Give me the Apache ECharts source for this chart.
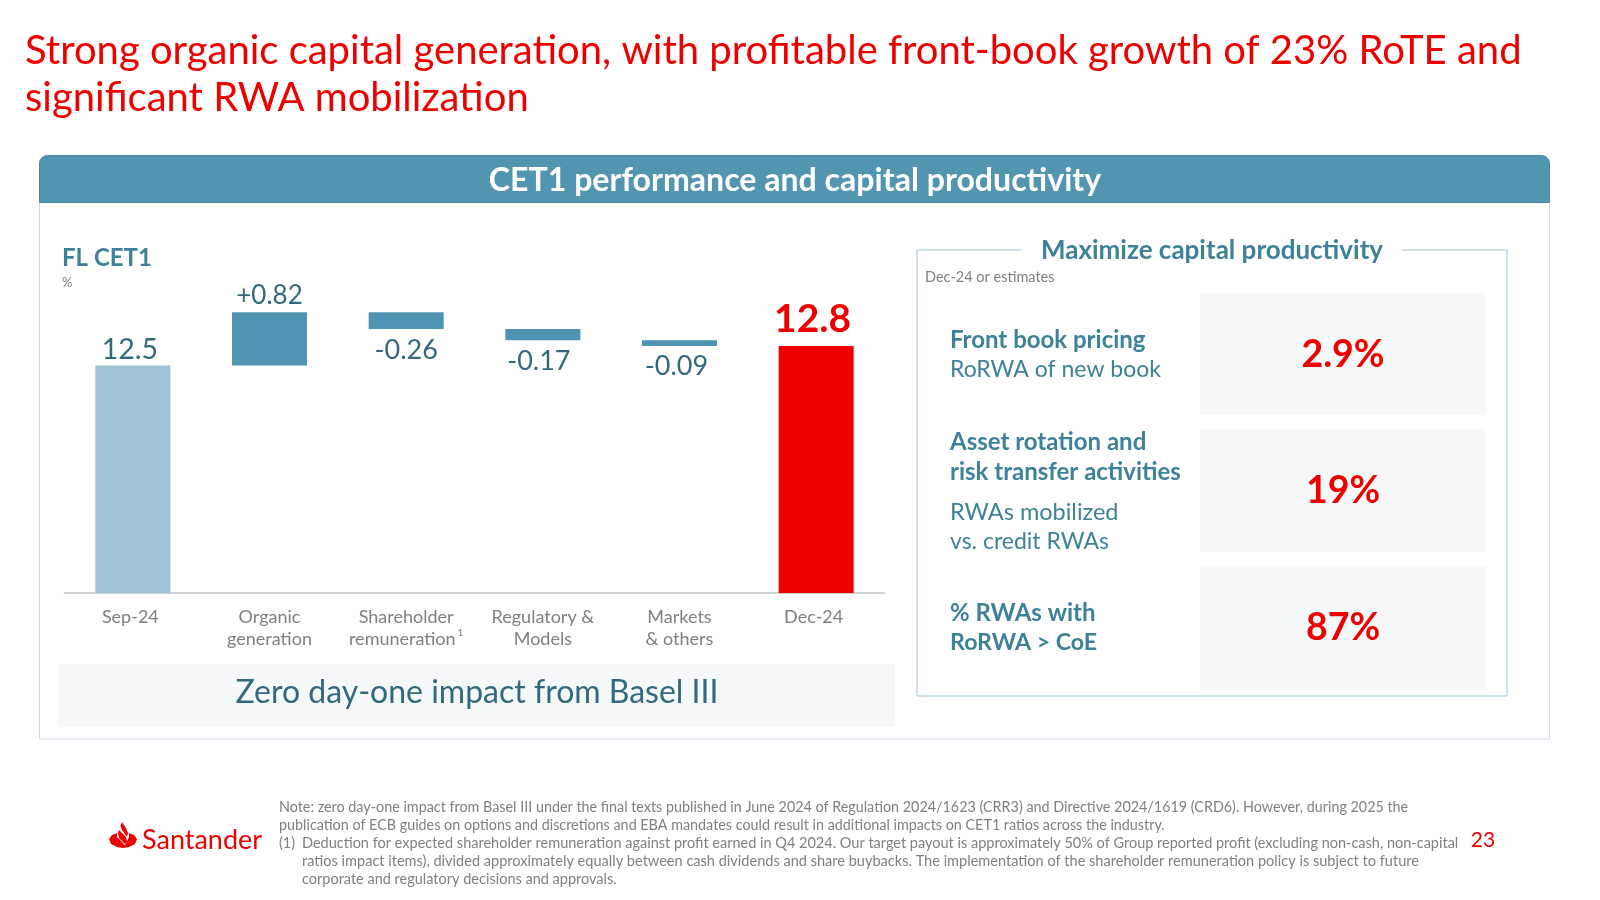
<!DOCTYPE html>
<html>
<head>
    <meta charset="utf-8">
    <title>CET1 performance</title>
    <script src="https://cdn.jsdelivr.net/npm/echarts@6/dist/echarts.min.js"></script>
    <style>
        html, body { margin: 0; padding: 0; background: #fff; }
        #chart { width: 1600px; height: 900px; }
    </style>
</head>
<body>
<div id="chart"></div>
<script>
    // chart data
    var categories = ['Sep-24', 'Organic\ngeneration', 'Shareholder\nremuneration', 'Regulatory &\nModels', 'Markets\n& others', 'Dec-24'];
    var moves = [12.5, 0.82, -0.26, -0.17, -0.09, 12.8];
    var moveLabels = ['12.5', '+0.82', '-0.26', '-0.17', '-0.09', '12.8'];
    var productivityValues = ['2.9%', '19%', '87%'];

    var FONT = 'Lato';
    var RED = '#ec0000';
    var TEAL = '#3d8298';
    var DARK = '#33697d';
    var GRAY = '#808080';
    var PALE = '#f5f9fa';
    var LINE = '#bcd7e2';

    // waterfall: invisible base + visible block
    var base = [];
    var block = [];
    var level = 0;
    moves.forEach(function (v, i) {
        if (i === 0 || i === moves.length - 1) {
            base.push(0);
            block.push(v);
            level = v;
        } else {
            base.push(v > 0 ? level : level + v);
            block.push(Math.abs(v));
            level += v;
        }
    });

    var barColors = ['#9dc2d3', '#4f94b2', '#4f94b2', '#4f94b2', '#4f94b2', RED];
    var labelPos = ['top', 'top', 'bottom', 'bottom', 'bottom', 'top'];
    var labelDist = [1, 3.5, 7.5, 8, 7, 7.5];
    var labelDx = [-3, 0, 0, -4, -3, -3.5];
    var labelSize = [28.5, 26, 27, 27, 27, 39];

    function text(x, y, str, size, color, weight, align) {
        return {
            type: 'text', x: x, y: y, z: 10,
            style: {
                text: str, fontFamily: FONT, fontSize: size, fill: color,
                fontWeight: weight || 'normal', align: align || 'left', verticalAlign: 'middle'
            }
        };
    }
    function box(x, y, w, h, fill) {
        return { type: 'rect', z: 1, shape: { x: x, y: y, width: w, height: h }, style: { fill: fill } };
    }
    function rule(x1, y1, x2, y2) {
        return { type: 'line', z: 2, shape: { x1: x1, y1: y1, x2: x2, y2: y2 }, style: { stroke: LINE, lineWidth: 1.5 } };
    }
    function logoPart(points) {
        return { type: 'polygon', z: 5, x: 109, y: 822, shape: { points: points }, style: { fill: RED } };
    }

    var elements = [
        // panel
        { type: 'rect', z: 1, shape: { x: 39.5, y: 190, width: 1510, height: 549 }, style: { fill: 'transparent', stroke: '#c7dee8', lineWidth: 1 } },
        { type: 'rect', z: 2, shape: { x: 39.5, y: 155.5, width: 1510, height: 47, r: [8, 8, 0, 0] }, style: { fill: '#5295b1', stroke: '#47869f', lineWidth: 1 } },
        text(795, 181, 'CET1 performance and capital productivity', 32.1, '#fff', 'bold', 'center'),

        // left side
        text(62, 258, 'FL CET1', 24, TEAL, 'bold'),
        text(62, 283, '%', 13, GRAY),
        box(58, 664, 837, 63, PALE),
        text(477, 693, 'Zero day-one impact from Basel III', 32, DARK, 'normal', 'center'),

        // right side frame
        rule(917, 250, 1021, 250),
        rule(1402, 250, 1507, 250),
        rule(917, 250, 917, 696),
        rule(1507, 250, 1507, 696),
        rule(917, 696, 1507, 696),
        text(1212, 251, 'Maximize capital productivity', 26, TEAL, 'bold', 'center'),
        text(925, 277, 'Dec-24 or estimates', 14.5, GRAY),

        box(1200, 293, 286, 122, PALE),
        box(1200, 429, 286, 123, PALE),
        box(1200, 566, 286, 123, PALE),
        text(1343, 355, productivityValues[0], 37.5, RED, 'bold', 'center'),
        text(1343, 491, productivityValues[1], 37.5, RED, 'bold', 'center'),
        text(1343, 628, productivityValues[2], 37.5, RED, 'bold', 'center'),

        text(950, 340, 'Front book pricing', 24, TEAL, 'bold'),
        text(950, 370, 'RoRWA of new book', 23, TEAL),
        text(950, 442, 'Asset rotation and', 24, TEAL, 'bold'),
        text(950, 472, 'risk transfer activities', 24, TEAL, 'bold'),
        text(950, 512, 'RWAs mobilized', 23.5, TEAL),
        text(950, 542, 'vs. credit RWAs', 23, TEAL),
        text(950, 613, '% RWAs with', 24, TEAL, 'bold'),
        text(950, 643, 'RoRWA > CoE', 23.2, TEAL, 'bold'),

        // footer: logo made of flame strokes and base
        logoPart([[13, 0], [17, 6], [19, 11], [18, 15], [13, 8], [11.5, 4]]),
        logoPart([[10, 8], [17, 15], [18, 20], [16, 22], [10, 16], [9, 11]]),
        logoPart([[8, 11], [3, 13], [0, 17], [2, 22], [8, 25], [14, 26], [20, 25], [26, 22], [28, 17], [25, 13], [20, 11], [20, 15], [16, 23.5], [14, 21], [8, 15]]),
        text(142, 840, 'Santander', 27, RED),
        text(1483, 840, '23', 21, RED, 'normal', 'center'),
        text(279, 807, 'Note: zero day-one impact from Basel III under the final texts published in June 2024 of Regulation 2024/1623 (CRR3) and Directive 2024/1619 (CRD6). However, during 2025 the', 14.35, GRAY),
        text(279, 825, 'publication of ECB guides on options and discretions and EBA mandates could result in additional impacts on CET1 ratios across the industry.', 14.35, GRAY),
        text(279, 843, '(1)', 14.4, GRAY),
        text(302, 843, 'Deduction for expected shareholder remuneration against profit earned in Q4 2024. Our target payout is approximately 50% of Group reported profit (excluding non-cash, non-capital', 14.5, GRAY),
        text(302, 861, 'ratios impact items), divided approximately equally between cash dividends and share buybacks. The implementation of the shareholder remuneration policy is subject to future', 14.55, GRAY),
        text(302, 879, 'corporate and regulatory decisions and approvals.', 14.5, GRAY)
    ];

    var chart = echarts.init(document.getElementById('chart'));
    chart.setOption({
        animation: false,
        title: {
            text: 'Strong organic capital generation, with profitable front-book growth of 23% RoTE and\nsignificant RWA mobilization',
            left: 20, top: 23,
            textStyle: { fontFamily: FONT, fontSize: 40, fontWeight: 'normal', color: RED, lineHeight: 47 }
        },
        grid: { left: 64.5, top: 268, width: 820, height: 325 },
        xAxis: {
            type: 'category',
            data: categories,
            axisTick: { show: false },
            axisLine: { lineStyle: { color: '#c4c4c4', width: 1.5 } },
            axisLabel: {
                margin: 13, interval: 0, fontFamily: FONT, fontSize: 18, color: GRAY, lineHeight: 22,
                formatter: function (v) {
                    if (v.indexOf('remuneration') >= 0) return v + '{sup|1}';
                    // the two date labels sit a little left of their bars
                    return v.indexOf('-24') > 0 ? '{date|' + v + '}' : v;
                },
                rich: {
                    sup: { fontFamily: FONT, fontSize: 10, color: GRAY, verticalAlign: 'top', padding: [0, 0, 8, 2] },
                    date: { fontFamily: FONT, fontSize: 18, color: GRAY, padding: [0, 5, 0, 0] }
                }
            }
        },
        yAxis: { type: 'value', min: 9, max: 14, show: false, splitLine: { show: false } },
        series: [
            { type: 'bar', stack: 'w', barWidth: 75, silent: true, itemStyle: { color: 'transparent' }, data: base },
            {
                type: 'bar', stack: 'w', barWidth: 75,
                data: block.map(function (v, i) {
                    var last = i === block.length - 1;
                    return {
                        value: v,
                        itemStyle: { color: barColors[i] },
                        label: {
                            show: true,
                            position: labelPos[i],
                            distance: labelDist[i],
                            offset: [labelDx[i], 0],
                            formatter: moveLabels[i],
                            fontFamily: FONT,
                            fontSize: labelSize[i],
                            fontWeight: last ? 'bold' : 'normal',
                            color: last ? RED : DARK
                        }
                    };
                })
            }
        ],
        graphic: { elements: elements }
    });
</script>
</body>
</html>
